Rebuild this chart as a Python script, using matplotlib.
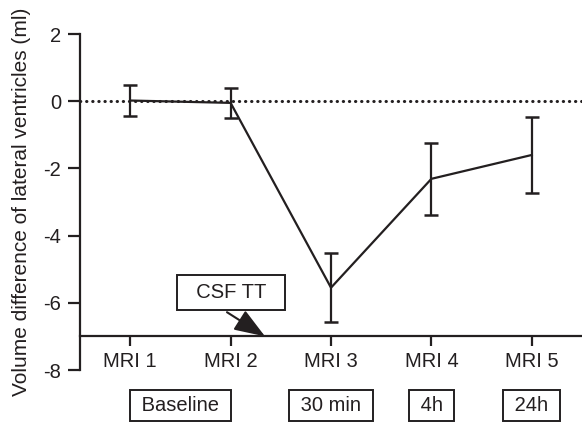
import matplotlib
matplotlib.use("Agg")
import matplotlib.pyplot as plt

plt.rcParams['font.family'] = ['Liberation Sans', 'DejaVu Sans']

categories = ["MRI 1", "MRI 2", "MRI 3", "MRI 4", "MRI 5"]
means = [0.02, -0.05, -5.55, -2.31, -1.60]
errors = [0.46, 0.45, 1.02, 1.07, 1.13]
yticks = [2, 0, -2, -4, -6, -8]
phase_labels = ["Baseline", "30 min", "4h", "24h"]
phase_pos = [1.5, 3, 4, 5]

fig = plt.figure(figsize=(5.82, 4.26), dpi=100)
ax = fig.add_axes([80/582, 1-370/426, 1-80/582, (370-34)/426])

x = list(range(1, len(categories)+1))
ax.errorbar(x, means, yerr=errors, color='#231f20', lw=1.6, capsize=5.2,
            capthick=1.8, elinewidth=1.6, clip_on=False, zorder=3)
ax.axhline(0, color='#231f20', ls=(0, (0.1, 1.9)), lw=2.2, dash_capstyle='round')

ax.set_xlim(0.5, 5.5)
ax.set_ylim(-8, 2)
ax.set_yticks(yticks)
ax.set_yticklabels([str(t) for t in yticks])
ax.set_xticks(x)
ax.set_xticklabels(categories)

for s in ['top', 'right']:
    ax.spines[s].set_visible(False)
ax.spines['bottom'].set_position(('data', -7))
ax.spines['left'].set_linewidth(1.6)
ax.spines['bottom'].set_linewidth(1.6)
ax.spines['left'].set_color('#231f20')
ax.spines['bottom'].set_color('#231f20')
ax.tick_params(axis='y', length=8.5, width=1.6, labelsize=14.5, pad=5, colors='#231f20')
ax.tick_params(axis='x', length=7.5, width=1.6, labelsize=14.5, pad=4, colors='#231f20')
ax.set_ylabel("Volume difference of lateral ventricles (ml)", fontsize=15,
              labelpad=9, color='#231f20')

for lab, p in zip(phase_labels, phase_pos):
    ax.text(p, -9.05, " " + lab + " ", ha='center', va='center', fontsize=14.5,
            color='#231f20',
            bbox=dict(boxstyle='square,pad=0.3', fc='white', ec='#231f20', lw=1.4),
            clip_on=False)

ax.text(2.004, -5.70, "  CSF TT  ", ha='center', va='center', fontsize=14.5,
        color='#231f20',
        bbox=dict(boxstyle='square,pad=0.4', fc='white', ec='#231f20', lw=1.4))
ax.annotate("", xy=(2.343, -7.0), xytext=(1.964, -6.28),
            arrowprops=dict(arrowstyle='-|>,head_length=1.9,head_width=0.7',
                            color='#231f20', lw=1.5, shrinkA=0, shrinkB=0))

fig.savefig("out.png", dpi=100)
